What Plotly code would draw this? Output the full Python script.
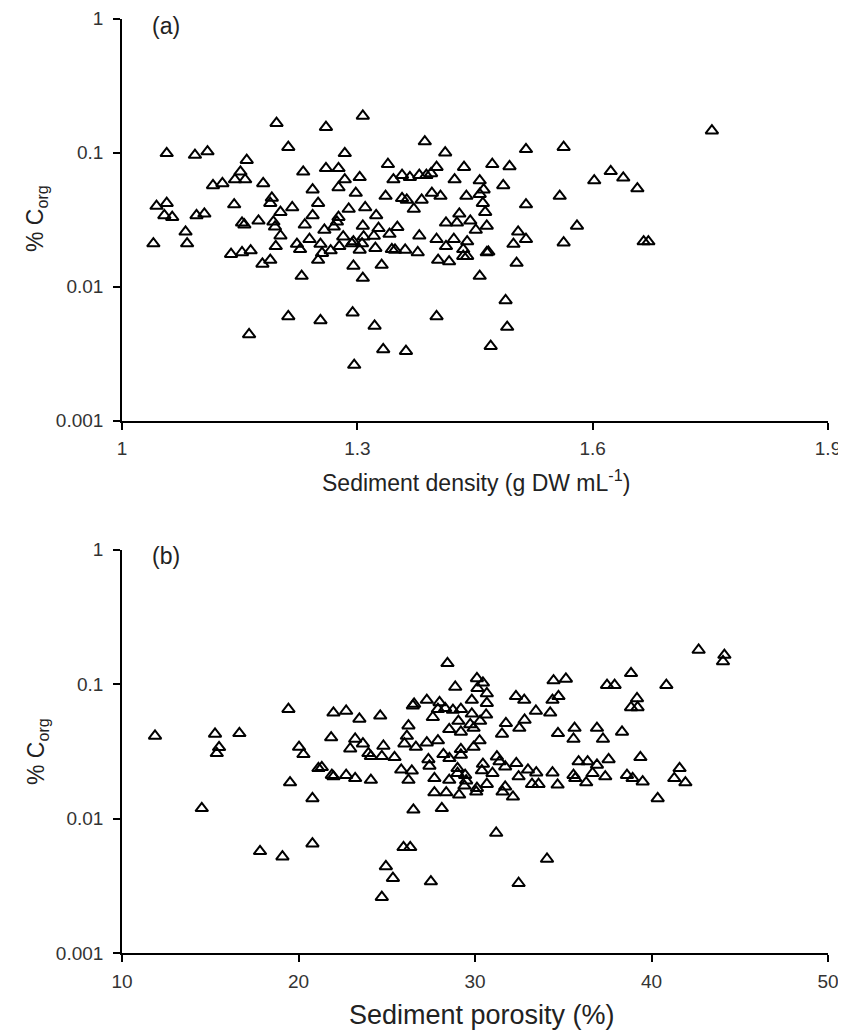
import plotly.graph_objects as go

# ---------------- Panel (a): sediment density vs % Corg ----------------
density = [
    1.197, 1.260, 1.057, 1.093, 1.109, 1.212, 1.284, 1.159, 1.151, 1.144,
    1.157, 1.116, 1.128, 1.180, 1.231, 1.260, 1.276, 1.284, 1.276, 1.243,
    1.044, 1.057, 1.054, 1.064, 1.095, 1.105, 1.143, 1.191, 1.189, 1.202,
    1.217, 1.250, 1.289, 1.153, 1.156, 1.174, 1.193, 1.195, 1.202, 1.243,
    1.233, 1.276, 1.274, 1.258, 1.270, 1.081, 1.040, 1.083, 1.139, 1.153,
    1.164, 1.196, 1.189, 1.179, 1.223, 1.227, 1.239, 1.253, 1.266, 1.277,
    1.282, 1.293, 1.250, 1.255, 1.295, 1.229, 1.307, 1.386, 1.412, 1.515,
    1.563, 1.602, 1.339, 1.357, 1.367, 1.379, 1.388, 1.394, 1.401, 1.436,
    1.472, 1.494, 1.424, 1.456, 1.486, 1.461, 1.303, 1.346, 1.298, 1.336,
    1.357, 1.363, 1.382, 1.372, 1.395, 1.406, 1.439, 1.456, 1.460, 1.463,
    1.515, 1.558, 1.310, 1.324, 1.307, 1.327, 1.351, 1.341, 1.321, 1.308,
    1.295, 1.306, 1.303, 1.323, 1.344, 1.361, 1.377, 1.379, 1.413, 1.427,
    1.430, 1.444, 1.451, 1.465, 1.401, 1.423, 1.413, 1.440, 1.435, 1.435,
    1.467, 1.403, 1.417, 1.505, 1.515, 1.499, 1.503, 1.580, 1.563, 1.331,
    1.307, 1.456, 1.489, 1.752, 1.623, 1.639, 1.657, 1.665, 1.671, 1.491,
    1.470, 1.162, 1.212, 1.253, 1.294, 1.322, 1.333, 1.362, 1.296, 1.401,
    1.440, 1.465, 1.348,
]
corg_a = [
    0.166, 0.155, 0.099, 0.096, 0.102, 0.110, 0.099, 0.088, 0.072, 0.063,
    0.063, 0.057, 0.059, 0.059, 0.072, 0.0765, 0.0765, 0.063, 0.055, 0.053,
    0.040, 0.042, 0.034, 0.033, 0.034, 0.035, 0.041, 0.046, 0.042, 0.036,
    0.039, 0.042, 0.038, 0.030, 0.029, 0.031, 0.0305, 0.028, 0.024, 0.034,
    0.029, 0.033, 0.0305, 0.0265, 0.028, 0.0257, 0.021, 0.021, 0.0175, 0.018,
    0.0186, 0.020, 0.0158, 0.0148, 0.0208, 0.019, 0.0226, 0.0208, 0.0186, 0.020,
    0.0236, 0.021, 0.0158, 0.0178, 0.0143, 0.012, 0.188, 0.121, 0.100, 0.106,
    0.110, 0.062, 0.082, 0.068, 0.0655, 0.068, 0.068, 0.070, 0.078, 0.078,
    0.082, 0.079, 0.063, 0.062, 0.057, 0.053, 0.0655, 0.063, 0.050, 0.0475,
    0.0457, 0.0444, 0.0444, 0.038, 0.050, 0.0475, 0.0475, 0.049, 0.042, 0.036,
    0.041, 0.0475, 0.039, 0.034, 0.0284, 0.0273, 0.0278, 0.0247, 0.0239, 0.0236,
    0.0217, 0.021, 0.0188, 0.0194, 0.019, 0.0188, 0.018, 0.024, 0.030, 0.030,
    0.035, 0.031, 0.0265, 0.0284, 0.0226, 0.0226, 0.020, 0.0217, 0.019, 0.0169,
    0.0182, 0.0158, 0.0154, 0.0257, 0.0226, 0.0208, 0.015, 0.0284, 0.0213, 0.0145,
    0.0116, 0.012, 0.0079, 0.146, 0.0726, 0.065, 0.054, 0.0217, 0.0217, 0.0050,
    0.0036, 0.0044, 0.0060, 0.0056, 0.0064, 0.0051, 0.0034, 0.0033, 0.0026, 0.0060,
    0.0169, 0.018, 0.0188,
]

# ---------------- Panel (b): sediment porosity vs % Corg ----------------
porosity = [
    11.87, 15.27, 15.50, 15.37, 16.65, 14.52, 19.43, 21.98, 22.70, 23.45,
    20.03, 20.28, 21.85, 22.93, 23.21, 21.13, 21.32, 21.89, 21.98, 22.70,
    23.21, 19.52, 20.79, 20.79, 17.82, 19.09, 28.44, 30.11, 30.45, 30.14,
    30.67, 28.88, 34.45, 35.15, 32.32, 32.79, 34.39, 34.73, 33.45, 34.26,
    30.67, 29.82, 30.63, 29.82, 30.29, 29.73, 29.92, 29.20, 28.75, 28.31,
    27.99, 27.90, 27.27, 26.55, 26.48, 27.61, 29.06, 28.54, 29.20, 31.75,
    31.53, 32.81, 32.51, 34.70, 35.64, 35.58, 36.91, 24.63, 26.23, 26.14,
    26.00, 26.65, 27.27, 27.90, 30.26, 29.92, 23.65, 24.81, 23.96, 24.10,
    24.72, 25.44, 27.36, 27.42, 28.21, 28.55, 29.20, 29.20, 25.82, 26.42,
    26.23, 27.70, 29.01, 29.01, 28.54, 29.44, 29.50, 30.45, 30.39, 31.24,
    31.39, 31.71, 30.99, 30.67, 30.11, 30.07, 29.10, 28.37, 27.70, 29.40,
    32.34, 32.47, 33.00, 33.47, 33.23, 33.60, 34.39, 34.68, 31.71, 31.56,
    32.15, 24.10, 35.58, 35.68, 35.87, 36.38, 36.30, 36.66, 36.91, 26.51,
    28.12, 31.20, 25.95, 26.33, 34.08, 24.95, 25.35, 27.50, 32.47, 24.72,
    42.67, 44.13, 44.05, 38.84, 37.48, 37.91, 40.84, 39.18, 38.84, 39.21,
    37.25, 38.33, 37.57, 39.37, 37.38, 38.61, 38.93, 39.50, 41.59, 41.29,
    41.92, 40.35,
]
corg_b = [
    0.0411, 0.0425, 0.0338, 0.0305, 0.043, 0.0119, 0.065, 0.061, 0.063, 0.055,
    0.034, 0.030, 0.040, 0.033, 0.039, 0.0236, 0.024, 0.021, 0.0205, 0.021,
    0.0199, 0.0185, 0.0141, 0.0065, 0.0057, 0.0052, 0.1425, 0.110, 0.102, 0.093,
    0.085, 0.095, 0.106, 0.109, 0.081, 0.076, 0.076, 0.081, 0.063, 0.061,
    0.072, 0.076, 0.059, 0.060, 0.053, 0.050, 0.047, 0.065, 0.064, 0.066,
    0.073, 0.065, 0.076, 0.071, 0.069, 0.0566, 0.053, 0.046, 0.044, 0.051,
    0.0425, 0.054, 0.047, 0.043, 0.047, 0.039, 0.047, 0.058, 0.049, 0.041,
    0.036, 0.034, 0.0366, 0.038, 0.038, 0.034, 0.036, 0.0346, 0.0305, 0.029,
    0.029, 0.0285, 0.0275, 0.0246, 0.030, 0.028, 0.0327, 0.0297, 0.023, 0.0226,
    0.0193, 0.0199, 0.0236, 0.0217, 0.0193, 0.021, 0.0191, 0.0254, 0.0227, 0.0288,
    0.0265, 0.0243, 0.0217, 0.018, 0.0168, 0.0158, 0.015, 0.0156, 0.0156, 0.0175,
    0.0257, 0.0205, 0.023, 0.0219, 0.018, 0.018, 0.0219, 0.0178, 0.0172, 0.0158,
    0.0145, 0.0193, 0.021, 0.0199, 0.0265, 0.0265, 0.0185, 0.0217, 0.025, 0.0116,
    0.0119, 0.0078, 0.0061, 0.0061, 0.0050, 0.0044, 0.0036, 0.0034, 0.0033, 0.0026,
    0.179, 0.164, 0.147, 0.120, 0.098, 0.098, 0.098, 0.078, 0.067, 0.067,
    0.039, 0.044, 0.0275, 0.0285, 0.0205, 0.021, 0.0199, 0.0188, 0.0236, 0.0199,
    0.0185, 0.0141,
]

x_ticks_a = [1, 1.3, 1.6, 1.9]
x_tick_text_a = ["1", "1.3", "1.6", "1.9"]
x_ticks_b = [10, 20, 30, 40, 50]
y_ticks = [0.001, 0.01, 0.1, 1]
y_tick_text = ["0.001", "0.01", "0.1", "1"]

FONT = "Liberation Sans"
TICK_COLOR = "#333333"
TEXT_COLOR = "#222222"

marker = dict(symbol="triangle-up-open", size=11, color="black",
              line=dict(color="black", width=2))

fig = go.Figure()
fig.add_trace(go.Scatter(x=density, y=corg_a, mode="markers", marker=marker,
                         xaxis="x", yaxis="y", showlegend=False, cliponaxis=False))
fig.add_trace(go.Scatter(x=porosity, y=corg_b, mode="markers", marker=marker,
                         xaxis="x2", yaxis="y2", showlegend=False, cliponaxis=False))

# The page body adds an 8 px margin, so the figure is drawn 8 px smaller
# and every target position (window pixels) is shifted by that offset.
OFF = 8
W, H = 846 - OFF, 1036 - OFF


def px(xw):
    return (xw - OFF) / W


def py(yw):
    return 1 - (yw - OFF) / H


xdom = [px(122), px(828)]
ydom_a = [py(420.7), py(18.7)]
ydom_b = [py(953), py(549.5)]

common_x = dict(showgrid=False, zeroline=False, showline=True, linecolor="black",
                linewidth=1.6, ticks="outside", ticklen=7, tickwidth=1.6,
                tickcolor="black", automargin=False,
                tickfont=dict(family=FONT, size=19, color=TICK_COLOR),
                ticklabelstandoff=3)
common_y = dict(type="log", range=[-3, 0], showgrid=False, zeroline=False,
                showline=True, linecolor="black", linewidth=1.6, ticks="outside",
                ticklen=7, tickwidth=1.6, tickcolor="black", automargin=False,
                tickvals=y_ticks, ticktext=y_tick_text,
                tickfont=dict(family=FONT, size=19, color=TICK_COLOR),
                ticklabelstandoff=6)

fig.update_layout(
    width=W, height=H, autosize=False,
    margin=dict(l=0, r=0, t=0, b=0, pad=0),
    paper_bgcolor="white", plot_bgcolor="white",
    xaxis=dict(domain=xdom, range=[1, 1.9], tickvals=x_ticks_a,
               ticktext=x_tick_text_a, anchor="y", **common_x),
    yaxis=dict(domain=ydom_a, anchor="x", **common_y),
    xaxis2=dict(domain=xdom, range=[10, 50], tickvals=x_ticks_b,
                ticktext=[str(v) for v in x_ticks_b], anchor="y2", **common_x),
    yaxis2=dict(domain=ydom_b, anchor="x2", **common_y),
)

ann = []
ann.append(dict(text="Sediment density (g DW mL<sup>-1</sup>)", x=px(476), y=py(481),
                xref="paper", yref="paper", showarrow=False,
                font=dict(family=FONT, size=23, color=TEXT_COLOR),
                xanchor="center", yanchor="middle"))
ann.append(dict(text="Sediment porosity (%)", x=px(482), y=py(1015),
                xref="paper", yref="paper", showarrow=False,
                font=dict(family=FONT, size=27, color=TEXT_COLOR),
                xanchor="center", yanchor="middle"))
for yc in (218, 751):
    ann.append(dict(text="% C<sub>org</sub>", x=px(37), y=py(yc),
                    xref="paper", yref="paper", showarrow=False, textangle=-90,
                    font=dict(family=FONT, size=23, color=TEXT_COLOR),
                    xanchor="center", yanchor="middle"))
for lab, yc in (("(a)", 26), ("(b)", 556)):
    ann.append(dict(text=lab, x=px(166), y=py(yc), xref="paper", yref="paper",
                    showarrow=False, font=dict(family=FONT, size=23, color=TEXT_COLOR),
                    xanchor="center", yanchor="middle"))
fig.update_layout(annotations=ann)

fig.write_html("out.html")
